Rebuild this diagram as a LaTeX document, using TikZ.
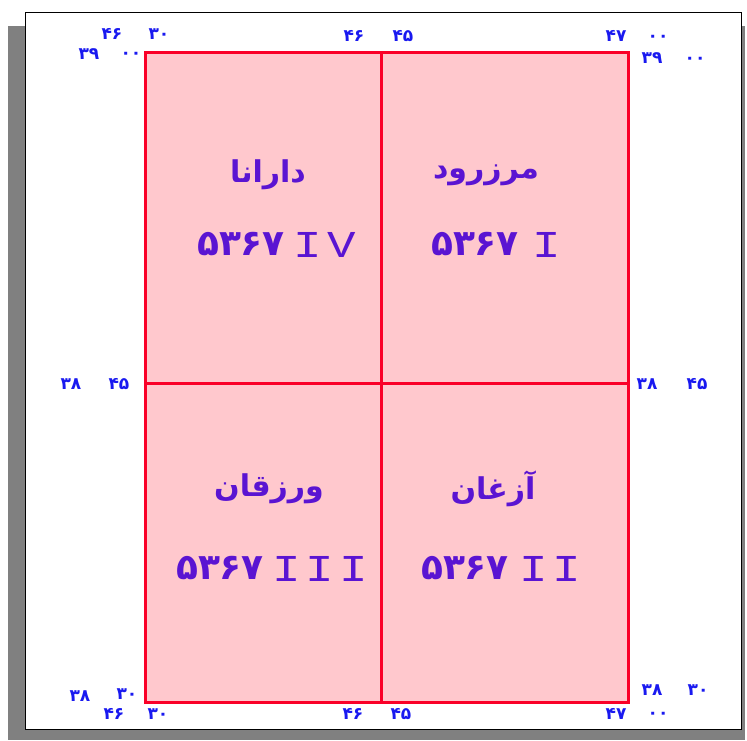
\documentclass[tikz,border=0pt]{standalone}
\usepackage{fontspec}
\TeXXeTstate=1
\newfontfamily\arabicfont[Script=Arabic]{DejaVu Sans}
\newfontfamily\digfont{DejaVu Sans}
\newfontfamily\romfont{Liberation Mono}
\definecolor{sheetfill}{RGB}{255,200,205}
\definecolor{sheetline}{RGB}{250,0,40}
\definecolor{cornerblue}{RGB}{25,25,240}
\definecolor{labpurple}{RGB}{90,20,210}
\definecolor{shadowgray}{RGB}{128,128,128}
\tikzset{
  corner/.style={inner sep=0pt, text=cornerblue, font=\digfont\bfseries\fontsize{17}{17}\selectfont},
  placename/.style={inner sep=0pt, text=labpurple, font=\arabicfont\bfseries\fontsize{30}{30}\selectfont},
  sheetnum/.style={inner sep=0pt, text=labpurple, font=\digfont\bfseries\fontsize{36}{36}\selectfont},
  roman/.style={inner sep=0pt, text=labpurple, xscale=1.25, font=\romfont\fontsize{38}{38}\selectfont},
  sheetline/.style={draw=sheetline, line width=3pt}
}
\newcommand{\romsp}{\kern 4pt}
\begin{document}
\begin{tikzpicture}[x=1pt,y=-1pt]
\useasboundingbox (0,0) rectangle (747,740);
% page and shadow
\fill[shadowgray] (8,26) rectangle (745,740);
\filldraw[fill=white, draw=black, line width=0.8pt] (25,12) rectangle (741,729);
% sheet
\coordinate (nw) at (145,52);
\coordinate (ne) at (628,52);
\coordinate (sw) at (145,702);
\coordinate (se) at (628,702);
\coordinate (nm) at (381,52);
\coordinate (sm) at (381,702);
\coordinate (wm) at (145,383);
\coordinate (em) at (628,383);
\fill[sheetfill] (nw) rectangle (se);
\draw[sheetline] (nm) -- (sm);
\draw[sheetline] (wm) -- (em);
\draw[sheetline] (nw) rectangle (se);
% corner labels
\node[corner] (c1) at (112,34) {۴۶};
\node[corner] (c2) at (159,34) {۳۰};
\node[corner] (c3) at (89,54) {۳۹};
\node[corner] (c4) at (131,55) {۰۰};
\node[corner] (c5) at (354,36) {۴۶};
\node[corner] (c6) at (403,36) {۴۵};
\node[corner] (c7) at (616,36) {۴۷};
\node[corner] (c8) at (658,38) {۰۰};
\node[corner] (c9) at (652,58) {۳۹};
\node[corner] (c10) at (695,60) {۰۰};
\node[corner] (c11) at (71,384) {۳۸};
\node[corner] (c12) at (119,384) {۴۵};
\node[corner] (c13) at (647,384) {۳۸};
\node[corner] (c14) at (697,384) {۴۵};
\node[corner] (c15) at (80,696) {۳۸};
\node[corner] (c16) at (127,694) {۳۰};
\node[corner] (c17) at (114,714) {۴۶};
\node[corner] (c18) at (158,714) {۳۰};
\node[corner] (c19) at (353,714) {۴۶};
\node[corner] (c20) at (401,714) {۴۵};
\node[corner] (c21) at (652,690) {۳۸};
\node[corner] (c22) at (698,690) {۳۰};
\node[corner] (c23) at (616,714) {۴۷};
\node[corner] (c24) at (658,715) {۰۰};
% place names
\node[placename] (n4) at (268,175) {\beginR دارانا\endR};
\node[placename] (n1) at (486,175) {\beginR مرزرود\endR};
\node[placename] (n3) at (269,489) {\beginR ورزقان\endR};
\node[placename] (n2) at (493,489) {\beginR آزغان\endR};
% sheet numbers
\node[sheetnum] (s4) at (241,244) {۵۳۶۷};
\node[sheetnum] (s1) at (475,244) {۵۳۶۷};
\node[sheetnum] (s3) at (220,568) {۵۳۶۷};
\node[sheetnum] (s2) at (465,568) {۵۳۶۷};
\node[roman] (r4) at (325,245) {I\romsp V};
\node[roman] (r1) at (547,245) {I};
\node[roman] (r3) at (320,569) {I\romsp I\romsp I};
\node[roman] (r2) at (550,569) {I\romsp I};
\end{tikzpicture}
\end{document}
